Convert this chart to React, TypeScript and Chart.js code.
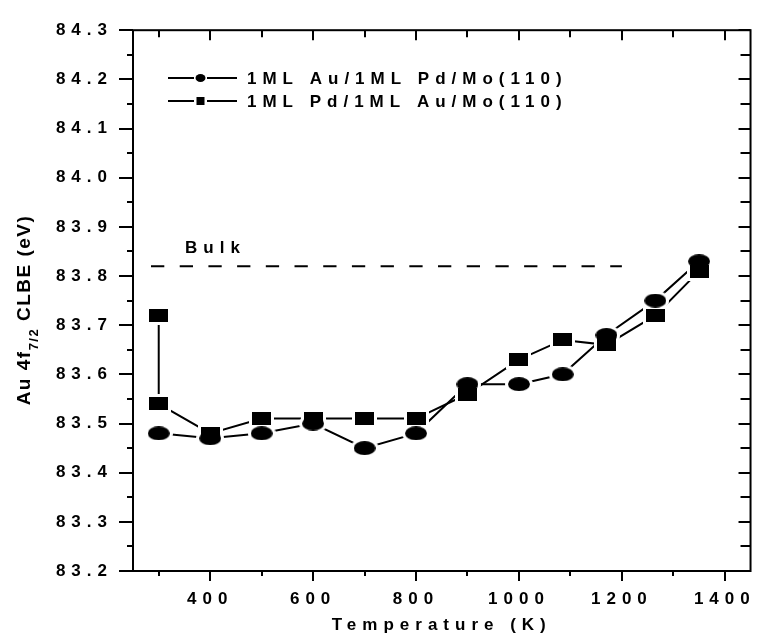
import React, { useEffect, useRef } from 'react';
import { Chart, registerables } from 'chart.js';

Chart.register(...registerables);

// Au 4f7/2 core-level binding energy versus annealing temperature
const auPdTemps = [300, 400, 500, 600, 700, 800, 900, 1000, 1085, 1170, 1265, 1350];
const auPdCLBE = [83.48, 83.47, 83.48, 83.5, 83.45, 83.48, 83.58, 83.58, 83.6, 83.68, 83.75, 83.83];
const pdAuTemps = [300, 300, 400, 500, 600, 700, 800, 900, 1000, 1085, 1170, 1265, 1350];
const pdAuCLBE = [83.72, 83.54, 83.48, 83.51, 83.51, 83.51, 83.51, 83.56, 83.63, 83.67, 83.66, 83.72, 83.81];
const bulkTemps = [285, 1200];
const bulkCLBE = 83.82;

const seriesLabels = ['1ML Au/1ML Pd/Mo(110)', '1ML Pd/1ML Au/Mo(110)'];
const xTitle = 'Temperature (K)';
const bulkLabel = 'Bulk';

const xTicks = [400, 600, 800, 1000, 1200, 1400];
const xMinorTicks = [300, 500, 700, 900, 1100, 1300];
const yTicks = [83.2, 83.3, 83.4, 83.5, 83.6, 83.7, 83.8, 83.9, 84.0, 84.1, 84.2, 84.3];
const yMinorTicks = [83.25, 83.35, 83.45, 83.55, 83.65, 83.75, 83.85, 83.95, 84.05, 84.15, 84.25];

const FONT = "'Liberation Sans', Arial, sans-serif";
const SPACING = '6px';

function markerImage(shape: 'ellipse' | 'rect', w: number, h: number, color: string) {
  const c = document.createElement('canvas');
  c.width = w;
  c.height = h;
  const g = c.getContext('2d')!;
  g.fillStyle = color;
  if (shape === 'ellipse') {
    g.beginPath();
    g.ellipse(w / 2, h / 2, w / 2, h / 2, 0, 0, Math.PI * 2);
    g.fill();
  } else {
    g.fillRect(0, 0, w, h);
  }
  return c;
}

const toPoints = (xs: number[], ys: number[]) => xs.map((x, i) => ({ x, y: ys[i] }));

const framePlugin = {
  id: 'frameAndLabels',
  beforeDraw(chart: any) {
    (chart.ctx as any).letterSpacing = SPACING;
  },
  afterDraw(chart: any) {
    const { ctx, chartArea: a, scales } = chart;
    const xs = scales.x;
    const ys = scales.y;
    ctx.save();
    ctx.strokeStyle = '#000';
    ctx.fillStyle = '#000';
    ctx.lineWidth = 2;

    // frame
    ctx.strokeRect(a.left, a.top, a.right - a.left, a.bottom - a.top);

    // tick marks: outward on left/bottom, inward on right/top
    ctx.beginPath();
    const vx = (v: number, major: boolean) => {
      const p = Math.round(xs.getPixelForValue(v));
      ctx.moveTo(p, a.bottom);
      ctx.lineTo(p, a.bottom + (major ? 10 : 5));
      ctx.moveTo(p, a.top);
      ctx.lineTo(p, a.top + (major ? 10 : 7));
    };
    const vy = (v: number, major: boolean) => {
      const p = Math.round(ys.getPixelForValue(v));
      ctx.moveTo(a.left, p);
      ctx.lineTo(a.left - (major ? 14 : 6), p);
      ctx.moveTo(a.right, p);
      ctx.lineTo(a.right - (major ? 12 : 10), p);
    };
    xTicks.forEach((v) => vx(v, true));
    xMinorTicks.forEach((v) => vx(v, false));
    yTicks.forEach((v) => vy(v, true));
    yMinorTicks.forEach((v) => vy(v, false));
    ctx.stroke();

    // legend
    ctx.letterSpacing = SPACING;
    ctx.font = `bold 17px ${FONT}`;
    ctx.textBaseline = 'middle';
    ctx.textAlign = 'left';
    const rows = [78, 101];
    rows.forEach((ry, i) => {
      ctx.beginPath();
      ctx.moveTo(168, ry);
      ctx.lineTo(194, ry);
      ctx.moveTo(207, ry);
      ctx.lineTo(237, ry);
      ctx.stroke();
      ctx.beginPath();
      if (i === 0) {
        ctx.ellipse(200.5, ry, 5, 4, 0, 0, Math.PI * 2);
        ctx.fill();
      } else {
        ctx.fillRect(196.5, ry - 4, 8, 8);
      }
      ctx.fillText(seriesLabels[i], 247, ry + 1);
    });

    // bulk reference label
    ctx.textBaseline = 'alphabetic';
    ctx.fillText(bulkLabel, 185, 253);

    // y axis title with subscript
    ctx.translate(30, 310);
    ctx.rotate(-Math.PI / 2);
    ctx.letterSpacing = '1.5px';
    const mainFont = `bold 19px ${FONT}`;
    const subFont = `bold 13px ${FONT}`;
    const parts = [
      { t: 'Au 4f', f: mainFont, dy: 0 },
      { t: '7/2', f: subFont, dy: 8 },
      { t: ' CLBE (eV)', f: mainFont, dy: 0 },
    ];
    let total = 0;
    parts.forEach((p) => {
      ctx.font = p.f;
      total += ctx.measureText(p.t).width;
    });
    let cx = -total / 2;
    parts.forEach((p) => {
      ctx.font = p.f;
      ctx.fillText(p.t, cx, p.dy);
      cx += ctx.measureText(p.t).width;
    });
    ctx.restore();
  },
};

export default function App() {
  const ref = useRef<HTMLCanvasElement>(null);

  useEffect(() => {
    const canvas = ref.current;
    if (!canvas) return;

    const ellipse = markerImage('ellipse', 22, 14, '#000');
    const ellipseHalo = markerImage('ellipse', 28, 20, '#fff');
    const square = markerImage('rect', 19, 13, '#000');
    const squareHalo = markerImage('rect', 25, 19, '#fff');

    const auPd = toPoints(auPdTemps, auPdCLBE);
    const pdAu = toPoints(pdAuTemps, pdAuCLBE);
    const bulk = bulkTemps.map((x) => ({ x, y: bulkCLBE }));

    const lineDefaults = {
      showLine: true,
      borderColor: '#000',
      borderWidth: 2,
      pointRadius: 0,
      tension: 0,
      order: 3,
    };
    const markDefaults = { showLine: false, pointRadius: 5, pointHoverRadius: 5 };

    const tickFont = { family: FONT, size: 17, weight: 'bold' as const };

    const chart = new Chart(canvas, {
      type: 'scatter',
      data: {
        datasets: [
          { ...lineDefaults, label: seriesLabels[0], data: auPd },
          { ...lineDefaults, label: seriesLabels[1], data: pdAu },
          { ...lineDefaults, label: bulkLabel, data: bulk, borderDash: [13.3, 15.4] },
          { ...markDefaults, data: auPd, pointStyle: ellipseHalo as any, order: 2 },
          { ...markDefaults, data: pdAu, pointStyle: squareHalo as any, order: 2 },
          { ...markDefaults, data: auPd, pointStyle: ellipse as any, order: 1 },
          { ...markDefaults, data: pdAu, pointStyle: square as any, order: 1 },
        ] as any,
      },
      options: {
        animation: false,
        responsive: false,
        events: [],
        layout: { padding: { left: 0, top: 21, right: 7, bottom: 0 } },
        plugins: {
          legend: { display: false },
          tooltip: { enabled: false },
        },
        scales: {
          x: {
            type: 'linear',
            min: 250,
            max: 1450,
            grid: { display: false, drawTicks: false },
            border: { display: false },
            afterBuildTicks: (s: any) => {
              s.ticks = xTicks.map((value) => ({ value }));
            },
            afterFit: (s: any) => {
              s.height = 68;
            },
            ticks: {
              color: '#000',
              font: tickFont,
              padding: 18,
              maxRotation: 0,
              autoSkip: false,
              callback: (v: any) => String(v),
            },
            title: {
              display: true,
              text: xTitle,
              color: '#000',
              font: tickFont,
              padding: { top: 0, bottom: 3 },
            },
          },
          y: {
            type: 'linear',
            min: 83.2,
            max: 84.3,
            grid: { display: false, drawTicks: false },
            border: { display: false },
            afterBuildTicks: (s: any) => {
              s.ticks = yTicks.map((value) => ({ value }));
            },
            afterFit: (s: any) => {
              s.width = 133;
            },
            ticks: {
              color: '#000',
              font: tickFont,
              padding: 20,
              autoSkip: false,
              callback: (v: any) => Number(v).toFixed(1),
            },
          },
        },
      },
      plugins: [framePlugin],
    });

    return () => chart.destroy();
  }, []);

  return (
    <div style={{ position: 'absolute', left: 0, top: 0, width: 762, height: 639, background: '#fff' }}>
      <canvas ref={ref} width={762} height={639} style={{ display: 'block' }} />
    </div>
  );
}
